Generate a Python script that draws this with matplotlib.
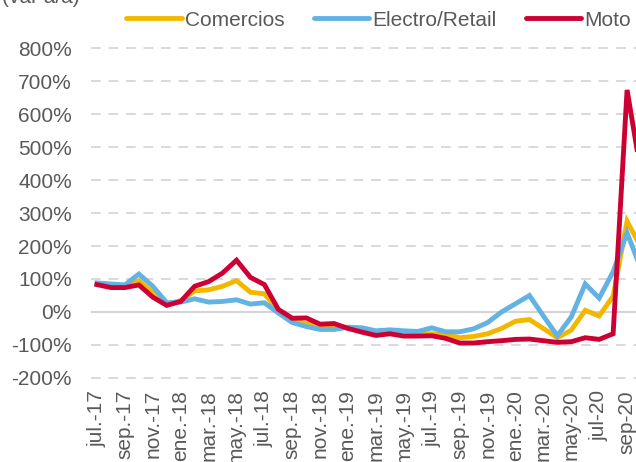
import matplotlib
matplotlib.use('Agg')
import matplotlib.pyplot as plt

plt.rcParams['font.family'] = ['Liberation Sans', 'DejaVu Sans']

# monthly series, jul-17 .. oct-20 (var a/a, %)
months = ['jul.-17', 'ago.-17', 'sep.-17', 'oct.-17', 'nov.-17', 'dic.-17',
          'ene.-18', 'feb.-18', 'mar.-18', 'abr.-18', 'may.-18', 'jun.-18',
          'jul.-18', 'ago.-18', 'sep.-18', 'oct.-18', 'nov.-18', 'dic.-18',
          'ene.-19', 'feb.-19', 'mar.-19', 'abr.-19', 'may.-19', 'jun.-19',
          'jul.-19', 'ago.-19', 'sep.-19', 'oct.-19', 'nov.-19', 'dic.-19',
          'ene.-20', 'feb.-20', 'mar.-20', 'abr-20', 'may-20', 'jun-20',
          'jul-20', 'ago-20', 'sep-20', 'oct-20']
comercios = [85, 78, 76, 95, 58, 25, 34, 64, 67, 78, 95, 60,
             55, 5, -25, -35, -45, -42, -47, -55, -62, -60, -65, -66,
             -66, -68, -78, -74, -66, -50, -28, -23, -50, -78, -55, 5,
             -12, 48, 275, 195]
electro = [88, 85, 82, 115, 78, 28, 30, 40, 30, 32, 37, 24,
           28, -3, -32, -44, -53, -53, -46, -48, -57, -54, -57, -59,
           -48, -60, -60, -51, -32, 0, 25, 50, -12, -72, -15, 85,
           42, 122, 240, 130]
moto = [83, 74, 74, 82, 45, 20, 32, 78, 92, 118, 157, 105,
        83, 8, -19, -18, -37, -35, -50, -61, -71, -66, -73, -73,
        -72, -80, -94, -94, -90, -87, -83, -82, -87, -92, -90, -78,
        -83, -66, 673, 420]

GREY = '#595959'
x = list(range(len(months)))

fig = plt.figure(figsize=(6.36, 4.62), dpi=100)
ax = fig.add_axes([91/636, 0.1747, 1 - 91/636, 0.7285])

ax.plot(x, comercios, color='#F3B700', lw=3.5, label='Comercios', solid_joinstyle='miter')
ax.plot(x, electro, color='#62B2E4', lw=3.5, label='Electro/Retail', solid_joinstyle='miter')
ax.plot(x, moto, color='#CC0033', lw=3.5, label='Moto', solid_joinstyle='miter')

ax.set_ylim(-210, 810)
ax.set_xlim(-0.43, 38.64)
ax.set_yticks(range(-200, 801, 100))
ax.set_yticklabels([f'{v}%' for v in range(-200, 801, 100)])
ax.set_xticks(x[::2])
ax.set_xticklabels(months[::2], rotation=90)

ax.yaxis.grid(True, color='#d9d9d9', linestyle=(0, (5, 4)), lw=1.4)
ax.axhline(0, color='#d4d4d4', lw=1.5, zorder=1)
ax.set_axisbelow(True)
for s in ax.spines.values():
    s.set_visible(False)

ax.tick_params(axis='y', length=0, labelsize=15, labelcolor=GREY, pad=13.7)
ax.tick_params(axis='x', length=0, labelsize=15, labelcolor=GREY, pad=6.3)

handles, labels = ax.get_legend_handles_labels()
leg = fig.legend(handles, labels, loc='center left', bbox_to_anchor=(126/636, 1 - 20/462),
                 ncol=3, frameon=False, handlelength=2.67, handletextpad=0.15,
                 columnspacing=1.4, borderpad=0, borderaxespad=0, fontsize=15)
for t in leg.get_texts():
    t.set_color(GREY)
for h in leg.get_lines():
    h.set_solid_capstyle('round')

fig.text(2/636, 1 - 3/462, '(var a/a)', ha='left', va='baseline', fontsize=15, color=GREY)

plt.savefig('out.png', dpi=100)
plt.close()
